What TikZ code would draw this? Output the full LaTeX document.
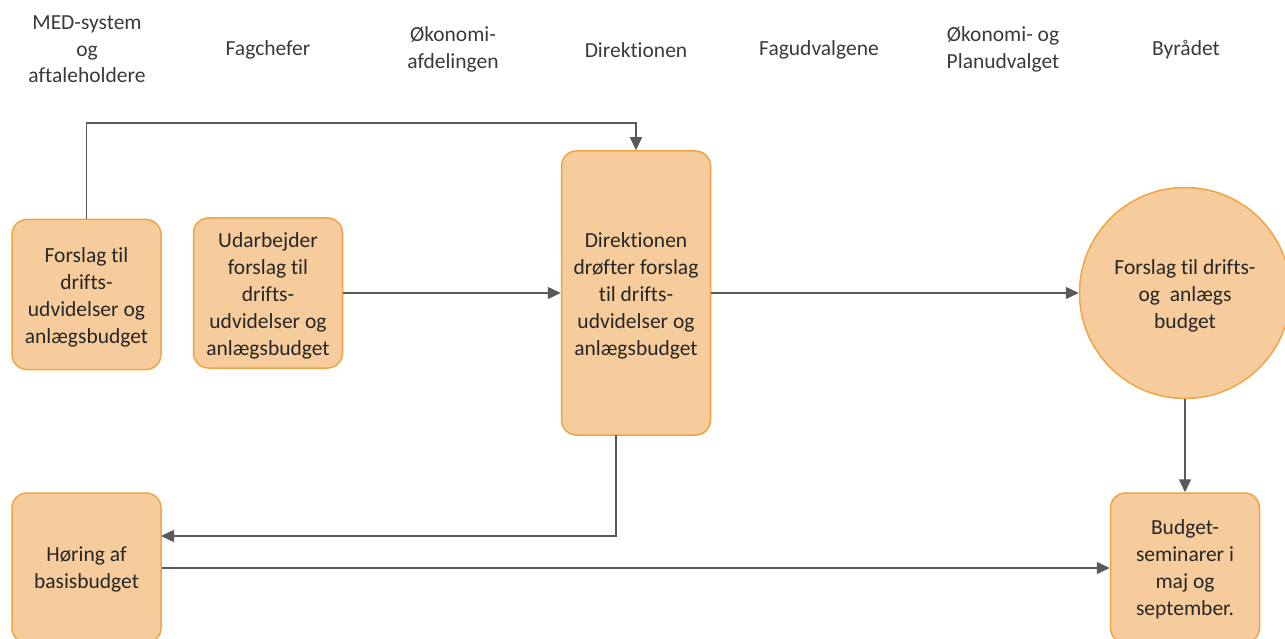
\documentclass[tikz,border=0pt]{standalone}
\usepackage{fontspec}
\setmainfont{Carlito}[Ligatures=NoCommon]
\usetikzlibrary{arrows.meta}
\definecolor{boxfill}{HTML}{F7CC9C}
\definecolor{boxline}{HTML}{F2A344}
\definecolor{conn}{HTML}{595959}
\definecolor{txt}{HTML}{262626}
\definecolor{hdr}{HTML}{3A3A3A}
\tikzset{
  procbox/.style={draw=boxline, fill=boxfill, line width=1.5pt, rounded corners=15pt,
    minimum width=149pt, minimum height=150pt, inner sep=0pt},
  circbox/.style={draw=boxline, fill=boxfill, line width=1.5pt, circle,
    minimum size=211pt, inner sep=0pt},
  boxtext/.style={align=center, inner sep=0pt, text=txt, font=\fontsize{21.5}{27}\selectfont},
  hdrtext/.style={align=center, text=hdr, font=\fontsize{21.5}{26.5}\selectfont, inner sep=0pt},
  conn/.style={draw=conn, line width=1.5pt, -{Triangle[length=13pt,width=12pt]}},
}
\begin{document}
\begin{tikzpicture}[x=1pt,y=-1pt]
\useasboundingbox (0,0) rectangle (1285,639);
% headers
\node[hdrtext] (h1) at (87,49.5) {MED-system\\og\\aftaleholdere};
\node[hdrtext] (h2) at (268,50) {Fagchefer};
\node[hdrtext] (h3) at (453,49.5) {Økonomi-\\afdelingen};
\node[hdrtext] (h4) at (636,50) {Direktionen};
\node[hdrtext] (h5) at (819,50) {Fagudvalgene};
\node[hdrtext] (h6) at (1003,49.5) {Økonomi- og\\Planudvalget};
\node[hdrtext] (h7) at (1186,50) {Byrådet};
% boxes
\node[procbox] (A) at (86.5,294.5) {};
\node[procbox] (B) at (268,293) {};
\node[procbox, minimum height=284pt] (C) at (636,293) {};
\node[circbox] (D) at (1185,293) {};
\node[procbox] (E) at (1185,568) {};
\node[procbox] (F) at (86.5,568) {};
% box texts
\node[boxtext] (At) at ([yshift=-2.5pt]A.center) {Forslag til\\drifts-\\udvidelser og\\anlægsbudget};
\node[boxtext] (Bt) at ([yshift=-2.5pt]B.center) {Udarbejder\\forslag til\\drifts-\\udvidelser og\\anlægsbudget};
\node[boxtext] (Ct) at ([yshift=-2.5pt]C.center) {Direktionen\\drøfter forslag\\til drifts-\\udvidelser og\\anlægsbudget};
\node[boxtext] (Dt) at ([yshift=-3pt]D.center) {Forslag til drifts-\\og\ \ anlægs\\budget};
\node[boxtext] (Et) at ([yshift=-1pt]E.center) {Budget-\\seminarer i\\maj og\\september.};
\node[boxtext] (Ft) at ([yshift=-1pt]F.center) {Høring af\\basisbudget};
% connectors
\draw[conn] (A.north) -- (86.5,123) -- (636,123) -- (C.north);
\draw[conn] (B.east) -- (C.west);
\draw[conn] (C.east) -- (D.west);
\coordinate (cb) at (616,435);
\coordinate (fr) at (161,536);
\draw[conn] (cb) -- (616,536) -- (fr);
\draw[conn] (F.east) -- (E.west);
\draw[conn] (D.south) -- (E.north);
\end{tikzpicture}
\end{document}
